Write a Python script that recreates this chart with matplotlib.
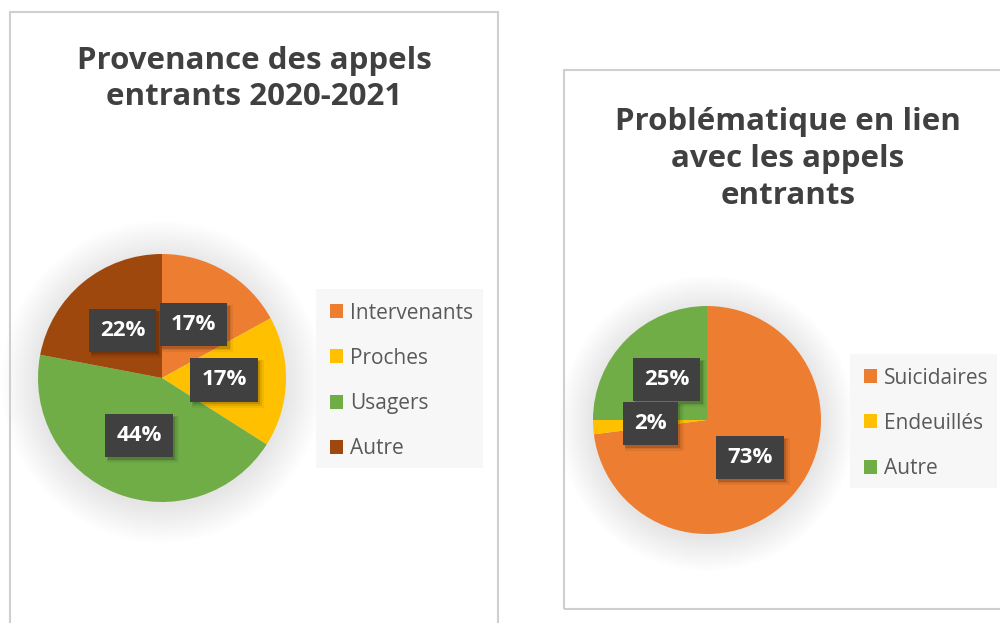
import matplotlib
matplotlib.use('Agg')
import matplotlib.pyplot as plt
from matplotlib.patches import Rectangle, Circle

plt.rcParams['font.family'] = ['Open Sans', 'DejaVu Sans']
plt.rcParams['hatch.color'] = '#5a5a5a'
plt.rcParams['hatch.linewidth'] = 1.2

# data
prov_labels = ['Intervenants', 'Proches', 'Usagers', 'Autre']
prov_values = [17, 17, 44, 22]
prov_colors = ['#ED7D31', '#FFC000', '#70AD47', '#9E480E']

prob_labels = ['Suicidaires', 'Endeuillés', 'Autre']
prob_values = [73, 2, 25]
prob_colors = ['#ED7D31', '#FFC000', '#70AD47']

W, H = 1000, 623
fig = plt.figure(figsize=(W / 100, H / 100), dpi=100)
fig.patch.set_facecolor('white')


def px_rect(x0, y0, x1, y1, **kw):
    # rectangle given in pixels, top-left origin
    return Rectangle((x0 / W, 1 - y1 / H), (x1 - x0) / W, (y1 - y0) / H,
                     transform=fig.transFigure, **kw)

# chart frames
fig.patches.append(px_rect(10, 12, 498, 640, fill=False, edgecolor='#CFCFCF', linewidth=1.5))
fig.patches.append(px_rect(564, 70, 1010, 609, fill=False, edgecolor='#CFCFCF', linewidth=1.5))

all_labels = []


def draw_pie(cx, cy, r, values, colors, labels, legend_box, title, title_xy):
    lim = 1.4
    size = r * lim
    ax = fig.add_axes([(cx - size) / W, 1 - (cy + size) / H, 2 * size / W, 2 * size / H])

    # soft glow shadow around the pie
    for i in range(26):
        ax.add_patch(Circle((0.0, -0.03), 1.0 + i * 0.012, color='black',
                            alpha=0.005, linewidth=0, zorder=0))

    wedges, _, autotexts = ax.pie(values, colors=colors, startangle=90, counterclock=False,
                                  autopct='%1.0f%%', pctdistance=0.5,
                                  wedgeprops=dict(linewidth=0))
    ax.set_xlim(-lim, lim)
    ax.set_ylim(-lim, lim)
    ax.axis('off')
    for w in wedges:
        w.set_zorder(1)

    for t in autotexts:
        t.set_color('white')
        t.set_fontweight('bold')
        t.set_fontsize(16)
        t.set_zorder(3)
        t.set_bbox(dict(boxstyle='square,pad=0.5', facecolor='#404040',
                        edgecolor='#404040', hatch='..', linewidth=0))
        all_labels.append((ax, t))

    x0, y0, x1, y1 = legend_box
    fig.patches.append(px_rect(x0, y0, x1, y1, facecolor='#F7F7F7', edgecolor='none', zorder=0))
    fig.legend(wedges, labels, loc='upper left',
               bbox_to_anchor=(x0 / W, 1 - y0 / H),
               frameon=False, fontsize=15, labelcolor='#595959',
               handlelength=0.65, handleheight=0.65, handletextpad=0.35,
               labelspacing=1.16, borderpad=0.65, borderaxespad=0)

    fig.text(title_xy[0] / W, 1 - title_xy[1] / H, title, ha='center', va='center',
             fontsize=22.5, fontweight='bold', color='#404040', linespacing=1.3)


draw_pie(162, 378, 124, prov_values, prov_colors, prov_labels,
         (316, 289, 483, 468), 'Provenance des appels\nentrants 2020-2021', (254, 79))
draw_pie(707, 420, 114, prob_values, prob_colors, prob_labels,
         (850, 354, 997, 488), 'Problématique en lien\navec les appels\nentrants', (788, 159))

# drop shadows behind the label boxes, sized from the rendered boxes
fig.canvas.draw()
for ax, t in all_labels:
    bb = t.get_bbox_patch().get_window_extent()
    inv = ax.transData.inverted()
    for off, grow, a in [(4.0, 2.0, 0.05), (3.0, 1.0, 0.08), (2.5, 0.0, 0.14)]:
        (dx0, dy0) = inv.transform((bb.x0 + off - grow, bb.y0 - off - grow))
        (dx1, dy1) = inv.transform((bb.x1 + off + grow, bb.y1 - off + grow))
        ax.add_patch(Rectangle((dx0, dy0), dx1 - dx0, dy1 - dy0, facecolor='black',
                               alpha=a, edgecolor='none', zorder=2))

fig.savefig('out.png', dpi=100, facecolor='white')
